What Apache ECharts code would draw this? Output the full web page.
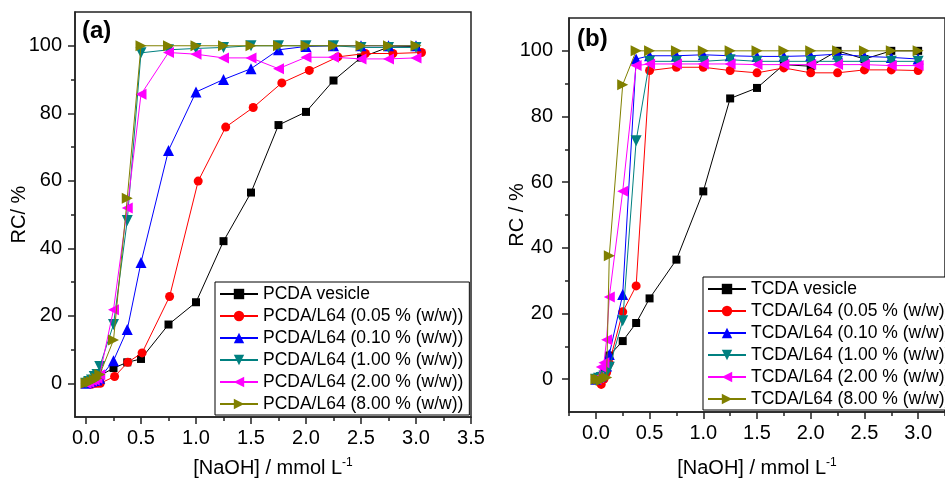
<!DOCTYPE html>
<html>
<head>
<meta charset="utf-8">
<script src="https://cdn.jsdelivr.net/npm/echarts@6/dist/echarts.min.js"></script>
<style>
  html, body { margin: 0; padding: 0; background: #ffffff; }
  #chart { width: 945px; height: 483px; }
</style>
</head>
<body>
<div id="chart"></div>
<script>
const FONT = "'Liberation Sans', Arial, sans-serif";

// ---- [NaOH] / mmol L-1 ----
const naohA = [0, 0.025, 0.05, 0.075, 0.1, 0.125, 0.25, 0.375, 0.5, 0.75, 1.0, 1.25, 1.5, 1.75, 2.0, 2.25, 2.5, 2.75, 3.0];
const naohA005 = [0, 0.025, 0.05, 0.076, 0.1, 0.13, 0.26, 0.38, 0.51, 0.76, 1.02, 1.27, 1.52, 1.78, 2.03, 2.29, 2.54, 2.79, 3.05];
const naohB = [0, 0.025, 0.05, 0.075, 0.1, 0.125, 0.25, 0.375, 0.5, 0.75, 1.0, 1.25, 1.5, 1.75, 2.0, 2.25, 2.5, 2.75, 3.0];

// ---- (a) PCDA: RC / % ----
const pcdaNames = ['PCDA vesicle', 'PCDA/L64 (0.05 % (w/w))', 'PCDA/L64 (0.10 % (w/w))',
                   'PCDA/L64 (1.00 % (w/w))', 'PCDA/L64 (2.00 % (w/w))', 'PCDA/L64 (8.00 % (w/w))'];
const pcdaVesicle = [0, 0.2, 0.5, 0.8, 1.2, 2.2, 4.5, 6.2, 7.2, 17.4, 24.0, 42.1, 56.5, 76.5, 80.4, 89.7, 96.5, 99.6, 99.8];
const pcda005 = [0, 0, -0.3, 0, 0, 0, 2.0, 6.2, 9.0, 25.7, 59.9, 75.9, 81.7, 89.0, 92.7, 96.7, 97.7, 97.7, 98.0];
const pcda010 = [0, 0.3, 0.6, 0.8, 1.0, 1.5, 6.7, 15.9, 35.8, 69.0, 86.3, 90.0, 93.2, 98.8, 99.8, 100, 100, 100, 100];
const pcda100 = [0, 0.5, 1.0, 2.0, 2.6, 5.0, 17.4, 48.2, 97.9, 98.8, 99.2, 99.5, 100, 100, 100, 100, 99.5, 99.5, 99.5];
const pcda200 = [0, 0.3, 0.8, 1.0, 1.5, 2.5, 21.8, 51.9, 85.6, 98.0, 97.5, 96.4, 96.4, 93.2, 96.6, 96.6, 96.1, 96.1, 96.4];
const pcda800 = [0, 0.3, 0.5, 1.0, 1.5, 2.6, 12.8, 54.8, 100, 100, 100, 100, 100, 100, 100, 100, 100, 100, 100];

// ---- (b) TCDA: RC / % ----
const tcdaNames = ['TCDA vesicle', 'TCDA/L64 (0.05 % (w/w))', 'TCDA/L64 (0.10 % (w/w))',
                   'TCDA/L64 (1.00 % (w/w))', 'TCDA/L64 (2.00 % (w/w))', 'TCDA/L64 (8.00 % (w/w))'];
const tcdaVesicle = [0, 0.5, 1.0, 2.0, 3.5, 7.2, 11.6, 17.1, 24.6, 36.4, 57.2, 85.5, 88.7, 95.8, 95.3, 100, 97.5, 100, 100];
const tcda005 = [0, -0.5, -1.6, 0, 2.0, 4.9, 20.5, 28.4, 94.0, 95.0, 95.0, 94.0, 93.3, 94.8, 93.3, 93.3, 94.2, 94.2, 94.0];
const tcda010 = [0, 0.5, 1.0, 2.0, 4.0, 7.5, 25.8, 97.5, 98.5, 98.5, 98.8, 98.5, 98.3, 98.3, 98.5, 99.0, 98.3, 98.0, 97.5];
const tcda100 = [0, 0.3, 0.5, 1.0, 2.0, 3.6, 17.8, 72.6, 96.8, 96.8, 96.8, 97.3, 96.8, 96.8, 96.8, 96.8, 96.8, 96.8, 96.8];
const tcda200 = [0, 0.5, 3.7, 5.0, 12.0, 25.0, 57.2, 95.5, 96.0, 96.0, 96.0, 96.0, 95.8, 95.8, 95.8, 95.8, 95.8, 95.5, 95.5];
const tcda800 = [0, 0, -0.4, 0.2, 0.5, 37.6, 89.7, 100, 100, 100, 100, 100, 100, 100, 100, 100, 100, 100, 100];

// ---- tick positions ----
const xMajorA = [0, 0.5, 1.0, 1.5, 2.0, 2.5, 3.0, 3.5];
const xMinorA = [0.25, 0.75, 1.25, 1.75, 2.25, 2.75, 3.25];
const xMajorB = [0, 0.5, 1.0, 1.5, 2.0, 2.5, 3.0];
const xMinorB = [-0.25, 0.25, 0.75, 1.25, 1.75, 2.25, 2.75, 3.25];
const yMajor = [0, 20, 40, 60, 80, 100];
const yMinor = [10, 30, 50, 70, 90];

const COLORS = ['#000000', '#ff0000', '#0000ff', '#008080', '#ff00ff', '#808000'];
const SYMBOLS = ['rect', 'circle', 'triangle',
                 'path://M0,0L10,0L5,9Z',      // down triangle
                 'path://M9,0L9,10L0,5Z',      // left triangle
                 'path://M0,0L9,5L0,10Z'];     // right triangle
const SIZES = [8, 9, 11, 11, 11, 11];

function pairs(xs, ys) { return ys.map((v, i) => [xs[i], v]); }

function lineSeries(name, xs, ys, k, axisIdx) {
  return {
    name, type: 'line',
    xAxisIndex: axisIdx, yAxisIndex: axisIdx,
    data: pairs(xs, ys),
    symbol: SYMBOLS[k], symbolSize: SIZES[k],
    itemStyle: { color: COLORS[k] },
    lineStyle: { color: COLORS[k], width: 1 },
    showSymbol: true, clip: false, z: 2 + k
  };
}

const frame = '#222222';
const tickLabel = { fontFamily: FONT, fontSize: 20, color: '#000' };

function mainX(gridIndex, min, max, labels, nameGap) {
  return {
    type: 'value', gridIndex, min, max, position: 'bottom',
    axisLine: { show: true, onZero: false, lineStyle: { color: frame, width: 1.5 } },
    axisTick: { show: true, inside: false, length: 7, customValues: labels, lineStyle: { color: frame, width: 1.5 } },
    axisLabel: { show: true, margin: 11, customValues: labels, formatter: v => v.toFixed(1), ...tickLabel },
    splitLine: { show: false },
    name: '[NaOH] / mmol L{s|-1}', nameLocation: 'middle', nameGap, nameMoveOverlap: false,
    nameTextStyle: { fontFamily: FONT, fontSize: 20, color: '#000',
      rich: { s: { fontFamily: FONT, fontSize: 12, verticalAlign: 'top', padding: [0, 0, 10, 0] } } }
  };
}
function minorX(gridIndex, min, max, ticks) {
  return {
    type: 'value', gridIndex, min, max, position: 'bottom',
    axisLine: { show: false, onZero: false },
    axisTick: { show: true, length: 4, customValues: ticks, lineStyle: { color: frame, width: 1.5 } },
    axisLabel: { show: false }, splitLine: { show: false }
  };
}
function mainY(gridIndex, name, nameGap, margin) {
  return {
    type: 'value', gridIndex, min: -10, max: 110, position: 'left',
    axisLine: { show: true, onZero: false, lineStyle: { color: frame, width: 1.5 } },
    axisTick: { show: true, length: 7, customValues: yMajor, lineStyle: { color: frame, width: 1.5 } },
    axisLabel: { show: true, margin, customValues: yMajor, ...tickLabel },
    splitLine: { show: false },
    name, nameLocation: 'middle', nameGap, nameRotate: 90, nameMoveOverlap: false,
    nameTextStyle: { fontFamily: FONT, fontSize: 20, color: '#000' }
  };
}
function minorY(gridIndex) {
  return {
    type: 'value', gridIndex, min: -10, max: 110, position: 'left',
    axisLine: { show: false, onZero: false },
    axisTick: { show: true, length: 4, customValues: yMinor, lineStyle: { color: frame, width: 1.5 } },
    axisLabel: { show: false }, splitLine: { show: false }
  };
}

function legendFor(names, left, top) {
  return {
    data: names, orient: 'vertical', left, top,
    padding: [3, 6, 2, 4], itemWidth: 38, itemHeight: 13, itemGap: 4,
    borderColor: '#000', borderWidth: 1, backgroundColor: '#ffffff',
    textStyle: { fontFamily: FONT, fontSize: 17.5, color: '#000' },
    selectedMode: false
  };
}

const seriesA = [pcdaVesicle, pcda005, pcda010, pcda100, pcda200, pcda800]
  .map((ys, k) => lineSeries(pcdaNames[k], k === 1 ? naohA005 : naohA, ys, k, 0));
const seriesB = [tcdaVesicle, tcda005, tcda010, tcda100, tcda200, tcda800]
  .map((ys, k) => lineSeries(tcdaNames[k], naohB, ys, k, 2));

const chart = echarts.init(document.getElementById('chart'), null, { renderer: 'canvas' });
chart.setOption({
  animation: false,
  backgroundColor: '#ffffff',
  grid: [
    { left: 75, top: 12, width: 396, height: 409, show: true, borderColor: frame, borderWidth: 1.5, backgroundColor: 'transparent' },
    { left: 569, top: 18, width: 392, height: 398, show: true, borderColor: frame, borderWidth: 1.5, backgroundColor: 'transparent' }
  ],
  xAxis: [
    mainX(0, -0.1, 3.5, xMajorA, 40),
    minorX(0, -0.1, 3.5, xMinorA),
    mainX(1, -0.25, 3.25, xMajorB, 45),
    minorX(1, -0.25, 3.25, xMinorB)
  ],
  yAxis: [
    mainY(0, 'RC/ %', 46, 13),
    minorY(0),
    mainY(1, 'RC / %', 42, 16),
    minorY(1)
  ],
  legend: [legendFor(pcdaNames, 215, 282), legendFor(tcdaNames, 703, 277)],
  graphic: [
    { type: 'text', left: 82, top: 19, style: { text: '(a)', fontFamily: FONT, fontSize: 24, fontWeight: 'bold', fill: '#000' } },
    { type: 'text', left: 577, top: 27, style: { text: '(b)', fontFamily: FONT, fontSize: 24, fontWeight: 'bold', fill: '#000' } }
  ],
  series: seriesA.concat(seriesB)
});
</script>
</body>
</html>
